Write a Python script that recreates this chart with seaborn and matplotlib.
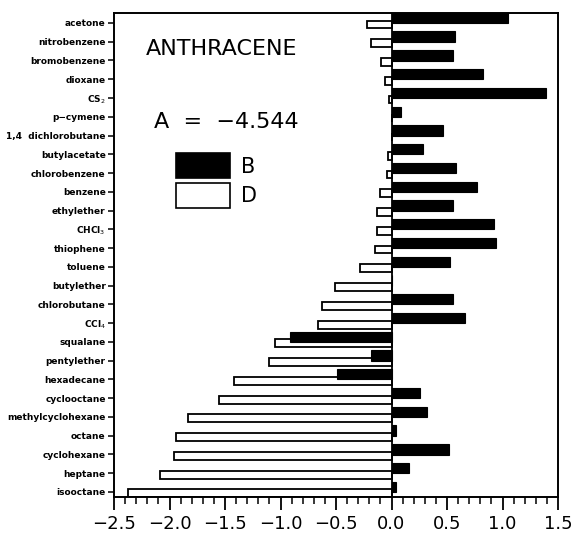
import numpy as np
import matplotlib
matplotlib.use("Agg")
import matplotlib.pyplot as plt
import seaborn as sns
from matplotlib.patches import Patch
from matplotlib.ticker import MultipleLocator

solvents = ["acetone", "nitrobenzene", "bromobenzene", "dioxane", "CS$_2$", "p\u2212cymene",
            "1,4  dichlorobutane", "butylacetate", "chlorobenzene", "benzene", "ethylether",
            "CHCl$_3$", "thiophene", "toluene", "butylether", "chlorobutane", "CCl$_4$",
            "squalane", "pentylether", "hexadecane", "cyclooctane", "methylcyclohexane",
            "octane", "cyclohexane", "heptane", "isooctane"]
B_values = [1.05, 0.576, 0.552, 0.823, 1.396, 0.09, 0.467, 0.28, 0.58, 0.77, 0.552,
            0.92, 0.944, 0.53, 0.0, 0.558, 0.664, -0.91, -0.186, -0.494, 0.26, 0.317,
            0.045, 0.515, 0.16, 0.04]
D_values = [-0.217, -0.186, -0.096, -0.057, -0.027, 0.0, 0.0, -0.036, -0.042, -0.10,
            -0.132, -0.132, -0.15, -0.286, -0.509, -0.63, -0.66, -1.054, -1.10, -1.422,
            -1.558, -1.829, -1.944, -1.958, -2.085, -2.37]
series_labels = ["B", "D"]
title_text = "ANTHRACENE"
a_text = "A  =  \u22124.544"

sns.set_style("ticks")
plt.rcParams["font.family"] = ["DejaVu Sans"]
plt.rcParams["text.color"] = "black"
plt.rcParams["xtick.color"] = "black"
plt.rcParams["ytick.color"] = "black"
plt.rcParams["axes.labelcolor"] = "black"

fig = plt.figure(figsize=(5.71, 5.37), dpi=100)
ax = fig.add_axes([114/571, 1-497/537, (558-114)/571, (497-13)/537])

idx = np.arange(len(solvents))
pos_d = idx + 0.08
pos_b = idx - 0.27

sns.barplot(x=D_values, y=pos_d, orient="h", native_scale=True, width=0.42,
            color="white", edgecolor="black", linewidth=1.3, errorbar=None,
            saturation=1, ax=ax)
sns.barplot(x=B_values, y=pos_b, orient="h", native_scale=True, width=0.55,
            color="black", edgecolor="black", linewidth=0.8, errorbar=None,
            saturation=1, ax=ax)
ax.axvline(0, color="black", lw=1.3, zorder=3)

ax.set_xlim(-2.5, 1.5)
ax.set_ylim(len(solvents) - 1 + 0.27, -0.53)
ax.set_yticks(idx)
ax.set_yticklabels(solvents, fontsize=6.5, fontweight="bold", color="black")
ax.xaxis.set_minor_locator(MultipleLocator(0.1))
ax.set_xticks(np.arange(-2.5, 1.51, 0.5))
ax.set_xticklabels([f"{v:.1f}".replace("-", "\u2212") for v in np.arange(-2.5, 1.51, 0.5)],
                   fontsize=13, color="black")
ax.tick_params(axis="x", which="major", direction="out", length=9, width=1.3, pad=4,
               colors="black")
ax.tick_params(axis="x", which="minor", direction="out", length=5, width=1.1,
               colors="black")
ax.tick_params(axis="y", which="major", direction="out", length=4, width=1.1, pad=2,
               colors="black")
ax.set_xlabel("")
ax.set_ylabel("")
for s in ax.spines.values():
    s.set_visible(True)
    s.set_linewidth(1.4)
    s.set_color("black")

ax.text(222/571, 1-49/537, title_text, transform=fig.transFigure, ha="center",
        va="center", fontsize=16, color="black")
ax.text(226/571, 1-122/537, a_text, transform=fig.transFigure, ha="center",
        va="center", fontsize=16, color="black")

handles = [Patch(facecolor="black", edgecolor="black", linewidth=1.2),
           Patch(facecolor="white", edgecolor="black", linewidth=1.2)]
leg = ax.legend(handles=handles, labels=series_labels, loc="upper left",
                bbox_to_anchor=((176-114)/444, (497-153)/484), frameon=False,
                fontsize=15, handlelength=2.6, handleheight=1.5, labelspacing=0.2,
                handletextpad=0.5, borderpad=0, borderaxespad=0)
for t in leg.get_texts():
    t.set_color("black")

fig.savefig("out.png", dpi=100)
